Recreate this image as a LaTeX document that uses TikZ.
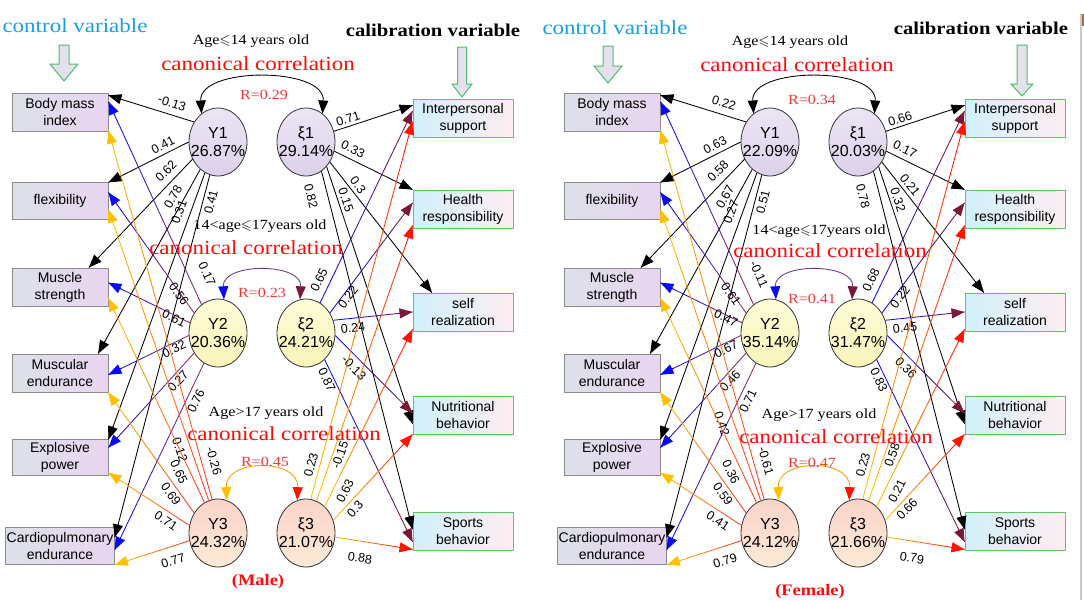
\documentclass[tikz,border=0pt]{standalone}
\usepackage{fontspec}
\usepackage{amssymb}
\setmainfont{Liberation Serif}
\newfontfamily\arialf{Liberation Sans}
\newfontfamily\widef[FakeStretch=1.15]{Liberation Serif}
\usetikzlibrary{arrows.meta,calc,shapes.geometric}
\definecolor{ctrlblue}{HTML}{1AA0E6}
\definecolor{tred}{HTML}{FF0A0A}
\definecolor{rred}{HTML}{F23A3A}
\definecolor{gmaroon}{HTML}{7A1838}
\definecolor{gblue}{HTML}{0A0AF5}
\definecolor{gpurple}{HTML}{8C2A5C}
\definecolor{apurple}{HTML}{6A3590}
\definecolor{gyellow}{HTML}{FFC000}
\definecolor{gorange}{HTML}{FF9A00}
\definecolor{gred}{HTML}{FF1400}
\definecolor{gred2}{HTML}{FF3A22}
\definecolor{lboxL}{HTML}{DCE0E8}
\definecolor{lboxR}{HTML}{E9D5F1}
\definecolor{lboxB}{HTML}{8C8C8C}
\definecolor{rboxL}{HTML}{D0F0FB}
\definecolor{rboxR}{HTML}{FDEEF1}
\definecolor{rboxB}{HTML}{5ACB5A}
\definecolor{eAt}{HTML}{ECE5F4}
\definecolor{eAb}{HTML}{DDD1EB}
\definecolor{eBt}{HTML}{FEFDD8}
\definecolor{eBb}{HTML}{F8F3B8}
\definecolor{eCt}{HTML}{F9D3C8}
\definecolor{eCb}{HTML}{FDEAD6}
\definecolor{arrfill}{HTML}{E4E0EC}
\definecolor{arrline}{HTML}{4CBF6A}
\definecolor{edgegray}{HTML}{C8C8C8}
\definecolor{edgebrown}{HTML}{B0653A}
\tikzset{
 lbox/.style={draw=lboxB,line width=0.9pt,left color=lboxL,right color=lboxR,minimum width=96pt,minimum height=38pt,inner sep=1pt,align=center,font=\arialf\fontsize{14}{17}\selectfont},
 rbox/.style={draw=rboxB,line width=0.9pt,left color=rboxL,right color=rboxR,minimum width=100pt,minimum height=38pt,inner sep=1pt,align=center,font=\arialf\fontsize{14}{17}\selectfont},
 ell/.style={ellipse,draw=black!80,line width=0.8pt,minimum width=58pt,minimum height=68pt,inner sep=0pt},
 ellA/.style={ell,top color=eAt,bottom color=eAb},
 ellB/.style={ell,top color=eBt,bottom color=eBb},
 ellC/.style={ell,top color=eCt,bottom color=eCb},
 etext/.style={align=center,inner sep=0pt,font=\arialf\fontsize{16}{18}\selectfont},
 lab/.style={inner sep=0pt,font=\arialf\fontsize{12.5}{13}\selectfont},
 conn/.style={line width=0.85pt},
 tipk/.style={-{Triangle[length=13pt,width=10pt]}},
 barrow/.style={draw=arrline,fill=arrfill,line width=1pt,line join=miter},
 ctrl/.style={inner sep=0pt,text=ctrlblue,font=\widef\fontsize{20}{22}\selectfont},
 calib/.style={inner sep=0pt,font=\widef\bfseries\fontsize{18}{20}\selectfont},
 agetxt/.style={inner sep=0pt,font=\widef\fontsize{14}{16}\selectfont},
 cctxt/.style={inner sep=0pt,text=tred,font=\widef\fontsize{20}{22}\selectfont},
 rtxt/.style={inner sep=0pt,text=rred,font=\widef\fontsize{14}{16}\selectfont},
 gtxt/.style={inner sep=0pt,text=tred,font=\widef\bfseries\fontsize{16}{18}\selectfont},
}
% gradient connector: start, end, start colour, end colour, label, label position
\newcommand\gline[6]{%
  \coordinate (gA) at (#1);
  \coordinate (gB) at (#2);
  \foreach \k in {0,...,11}{%
    \pgfmathsetmacro\pa{\k/12}%
    \pgfmathsetmacro\pb{(\k+1)/12}%
    \pgfmathtruncatemacro\mx{100-\k*100/11}%
    \draw[conn,#3!\mx!#4] ($(gA)!\pa!(gB)$) -- ($(gA)!\pb!(gB)$);
  }%
  \draw[conn,tipk,#4] ($(gB)!14pt!(gA)$) -- (gB);
  \path let \p1=($(gB)-(gA)$), \n1={atan2(\y1,\x1)}, \n2={\n1-180*round(\n1/180)} in node[lab,rotate=\n2] at (#6) {#5};
}
\newcommand\bigdarrow[6]{%
  \draw[barrow] (#1-#5,#2) -- (#1+#5,#2) -- (#1+#5,#3) -- (#1+#6,#3) -- (#1,#4) -- (#1-#6,#3) -- (#1-#5,#3) -- cycle;
}
\newcommand\panel[2]{%
\begin{scope}[xshift=#2pt]
\node[lbox] (#1bmi) at (60,112) {Body mass\\index};
\node[lbox,minimum height=37pt] (#1flex) at (60,201) {flexibility};
\node[lbox] (#1ms) at (60,287) {Muscle\\strength};
\node[lbox] (#1me) at (60,373) {Muscular\\endurance};
\node[lbox,minimum height=36pt] (#1ep) at (60,457) {Explosive\\power};
\node[lbox,minimum width=108pt,minimum height=37pt] (#1ce) at (60,546) {Cardiopulmonary\\endurance};
\node[rbox] (#1is) at (463,118) {Interpersonal\\support};
\node[rbox] (#1hr) at (463,209) {Health\\responsibility};
\node[rbox] (#1sr) at (463,312) {self\\realization};
\node[rbox] (#1nb) at (463,415) {Nutritional\\behavior};
\node[rbox] (#1sb) at (463,531) {Sports\\behavior};
\node[ellA] (#1Y1) at (218,142) {};
\node[ellA] (#1X1) at (306,142) {};
\node[ellB] (#1Y2) at (218,333) {};
\node[ellB] (#1X2) at (306,333) {};
\node[ellC] (#1Y3) at (218,533) {};
\node[ellC] (#1X3) at (306,533) {};
\node[etext] (#1Y1t) at (#1Y1) {Y1\\\PYa\%};
\node[etext] (#1X1t) at (#1X1) {ξ1\\\PXa\%};
\node[etext] (#1Y2t) at (#1Y2) {Y2\\\PYb\%};
\node[etext] (#1X2t) at (#1X2) {ξ2\\\PXb\%};
\node[etext] (#1Y3t) at (#1Y3) {Y3\\\PYc\%};
\node[etext] (#1X3t) at (#1X3) {ξ3\\\PXc\%};
% Y1
\gline{#1Y1.140}{#1bmi.19}{black}{black}{\Ya}{172,103}
\gline{#1Y1.180}{#1flex.21}{black}{black}{\Yb}{163,145}
\gline{#1Y1.214}{#1ms.34}{black}{black}{\Yc}{166,171}
\gline{#1Y1.237}{#1me.27}{black}{black}{\Yd}{173,197}
\gline{#1Y1.247}{#1ep.20}{black}{black}{\Ye}{179,212}
\gline{#1Y1.256}{#1ce.9}{black}{black}{\Yf}{211,202}
% xi1
\gline{#1X1.21}{#1is.166}{black}{black}{\Xa}{348,119}
\gline{#1X1.-18}{#1hr.159}{black}{black}{\Xb}{353,149}
\gline{#1X1.-40}{#1sr.148}{black}{black}{\Xc}{358,185}
\gline{#1X1.-50}{#1nb.190}{black}{black}{\Xd}{346,200}
\gline{#1X1.-62}{#1sb.178}{black}{black}{\Xe}{311,196}
% Y2
\gline{#1Y2.120}{#1bmi.12}{gpurple}{gblue}{\Ua}{207,274}
\gline{#1Y2.140}{#1flex.10}{gpurple}{gblue}{\Ub}{179,294}
\gline{#1Y2.160}{#1ms.5}{gpurple}{gblue}{\Uc}{174,318}
\gline{#1Y2.185}{#1me.-2}{gpurple}{gblue}{\Ud}{174,349}
\gline{#1Y2.220}{#1ep.11}{gpurple}{gblue}{\Ue}{178,381}
\gline{#1Y2.245}{#1ce.-4}{gpurple}{gblue}{\Uf}{196,401}
% xi2
\gline{#1X2.65}{#1is.172}{gblue}{gmaroon}{\Va}{319,280}
\gline{#1X2.40}{#1hr.173}{gblue}{gmaroon}{\Vb}{348,297}
\gline{#1X2.25}{#1sr.180}{gblue}{gmaroon}{\Vc}{353,328}
\gline{#1X2.-5}{#1nb.178}{gblue}{gmaroon}{\Vd}{354,368}
\gline{#1X2.-55}{#1sb.192}{gblue}{gmaroon}{\Ve}{327,380}
% Y3
\gline{#1Y3.100}{#1bmi.-21}{gred2}{gyellow}{\Wa}{214,461}
\gline{#1Y3.106}{#1flex.-10}{gred2}{gyellow}{\Wb}{\WbX,\WbY}
\gline{#1Y3.114}{#1ms.-13}{gred2}{gyellow}{\Wc}{179,472}
\gline{#1Y3.140}{#1me.-22}{gred2}{gyellow}{\Wd}{171,494}
\gline{#1Y3.165}{#1ep.-18}{gred2}{gyellow}{\We}{166,521}
\gline{#1Y3.195}{#1ce.-19}{gred2}{gyellow}{\Wf}{173,561}
% xi3
\gline{#1X3.82}{#1is.184}{gyellow}{gred}{\Za}{311,465}
\gline{#1X3.72}{#1hr.198}{gyellow}{gred}{\Zb}{340,455}
\gline{#1X3.55}{#1sr.199}{gyellow}{gred}{\Zc}{345,491}
\gline{#1X3.25}{#1nb.201}{gyellow}{gred}{\Zd}{355,509}
\gline{#1X3.-8}{#1sb.200}{gyellow}{gred}{\Ze}{360,558}
% canonical arcs
\draw[conn,{Triangle[length=13pt,width=10pt]}-{Triangle[length=13pt,width=10pt]}] (#1Y1.120) .. controls +(-3,-47) and +(3,-47) .. (#1X1.60);
\draw[conn,draw=apurple,{Triangle[length=13pt,width=10pt,color=gblue]}-{Triangle[length=13pt,width=10pt,color=gmaroon]}] (#1Y2.80) .. controls +(-2,-37) and +(2,-37) .. (#1X2.100);
\draw[conn,draw=gorange,{Triangle[length=13pt,width=10pt,color=gyellow]}-{Triangle[length=13pt,width=10pt,color=gred]}] (#1Y3.75) .. controls +(-2,-42) and +(2,-42) .. (#1X3.105);
\end{scope}}

\begin{document}
\begin{tikzpicture}[x=1pt,y=-1pt]
\fill[white] (0,0) rectangle (1084,600);
\useasboundingbox (0,0) rectangle (1084,600);
% ---------- Male ----------
\def\Ya{-0.13}\def\Yb{0.41}\def\Yc{0.62}\def\Yd{0.78}\def\Ye{0.31}\def\Yf{0.41}
\def\Xa{0.71}\def\Xb{0.33}\def\Xc{0.3}\def\Xd{0.15}\def\Xe{0.82}
\def\Ua{0.17}\def\Ub{0.56}\def\Uc{0.61}\def\Ud{0.32}\def\Ue{0.27}\def\Uf{0.76}
\def\Va{0.65}\def\Vb{0.22}\def\Vc{0.24}\def\Vd{-0.13}\def\Ve{0.87}
\def\Wa{-0.26}\def\Wb{0.12}\def\Wc{0.65}\def\Wd{0.69}\def\We{0.71}\def\Wf{0.77}
\def\Za{0.23}\def\Zb{-0.15}\def\Zc{0.63}\def\Zd{0.3}\def\Ze{0.88}
\def\PYa{26.87}\def\PXa{29.14}\def\PYb{20.36}\def\PXb{24.21}\def\PYc{24.32}\def\PXc{21.07}
\def\WbX{180}\def\WbY{450}
\panel{m}{0}
% ---------- Female ----------
\def\Ya{0.22}\def\Yb{0.63}\def\Yc{0.58}\def\Yd{0.67}\def\Ye{0.27}\def\Yf{0.51}
\def\Xa{0.66}\def\Xb{0.17}\def\Xc{0.21}\def\Xd{0.32}\def\Xe{0.78}
\def\Ua{-0.11}\def\Ub{0.61}\def\Uc{0.47}\def\Ud{0.67}\def\Ue{0.46}\def\Uf{0.71}
\def\Va{0.68}\def\Vb{0.22}\def\Vc{0.45}\def\Vd{0.36}\def\Ve{0.83}
\def\Wa{-0.61}\def\Wb{0.42}\def\Wc{0.36}\def\Wd{0.59}\def\We{0.41}\def\Wf{0.79}
\def\Za{0.23}\def\Zb{0.58}\def\Zc{0.21}\def\Zd{0.66}\def\Ze{0.79}
\def\PYa{22.09}\def\PXa{20.03}\def\PYb{35.14}\def\PXb{31.47}\def\PYc{24.12}\def\PXc{21.66}
\def\WbX{170}\def\WbY{424}
\panel{f}{552}
% ---------- block arrows ----------
\bigdarrow{64}{45}{64}{81}{5}{14}
\bigdarrow{462}{47}{84}{97}{4.5}{10}
\bigdarrow{608}{46}{66}{83}{5}{14}
\bigdarrow{1022}{45}{84}{96}{5}{11}
% right edge rule of the figure
\draw[edgegray,line width=1.5pt] (1081,14) -- (1081,600);
\draw[edgebrown,line width=1.5pt] (1083,14) -- (1083,26);
% ---------- texts male ----------
\node[ctrl] (mctrl) at (75,26) {control variable};
\node[calib] (mcalib) at (433,30) {calibration variable};
\node[agetxt] (mage1) at (251,41) {Age$\leqslant$14 years old};
\node[cctxt] (mcc1) at (258,64) {canonical correlation};
\node[rtxt] (mr1) at (264,95) {R=0.29};
\node[agetxt] (mage2) at (260,226) {14<age$\leqslant$17years old};
\node[cctxt] (mcc2) at (246,248) {canonical correlation};
\node[rtxt] (mr2) at (262,293) {R=0.23};
\node[agetxt] (mage3) at (266,413) {Age>17 years old};
\node[cctxt] (mcc3) at (284,434) {canonical correlation};
\node[rtxt] (mr3) at (265,462) {R=0.45};
\node[gtxt] (mgen) at (258,582) {(Male)};
% ---------- texts female ----------
\node[ctrl] (fctrl) at (615,28) {control variable};
\node[calib] (fcalib) at (981,28) {calibration variable};
\node[agetxt] (fage1) at (790,42) {Age$\leqslant$14 years old};
\node[cctxt] (fcc1) at (797,65) {canonical correlation};
\node[rtxt] (fr1) at (812,100) {R=0.34};
\node[agetxt] (fage2) at (819,231) {14<age$\leqslant$17years old};
\node[cctxt] (fcc2) at (830,251) {canonical correlation};
\node[rtxt] (fr2) at (812,299) {R=0.41};
\node[agetxt] (fage3) at (819,415) {Age>17 years old};
\node[cctxt] (fcc3) at (836,437) {canonical correlation};
\node[rtxt] (fr3) at (812,463) {R=0.47};
\node[gtxt] (fgen) at (810,592) {(Female)};
\end{tikzpicture}
\end{document}
